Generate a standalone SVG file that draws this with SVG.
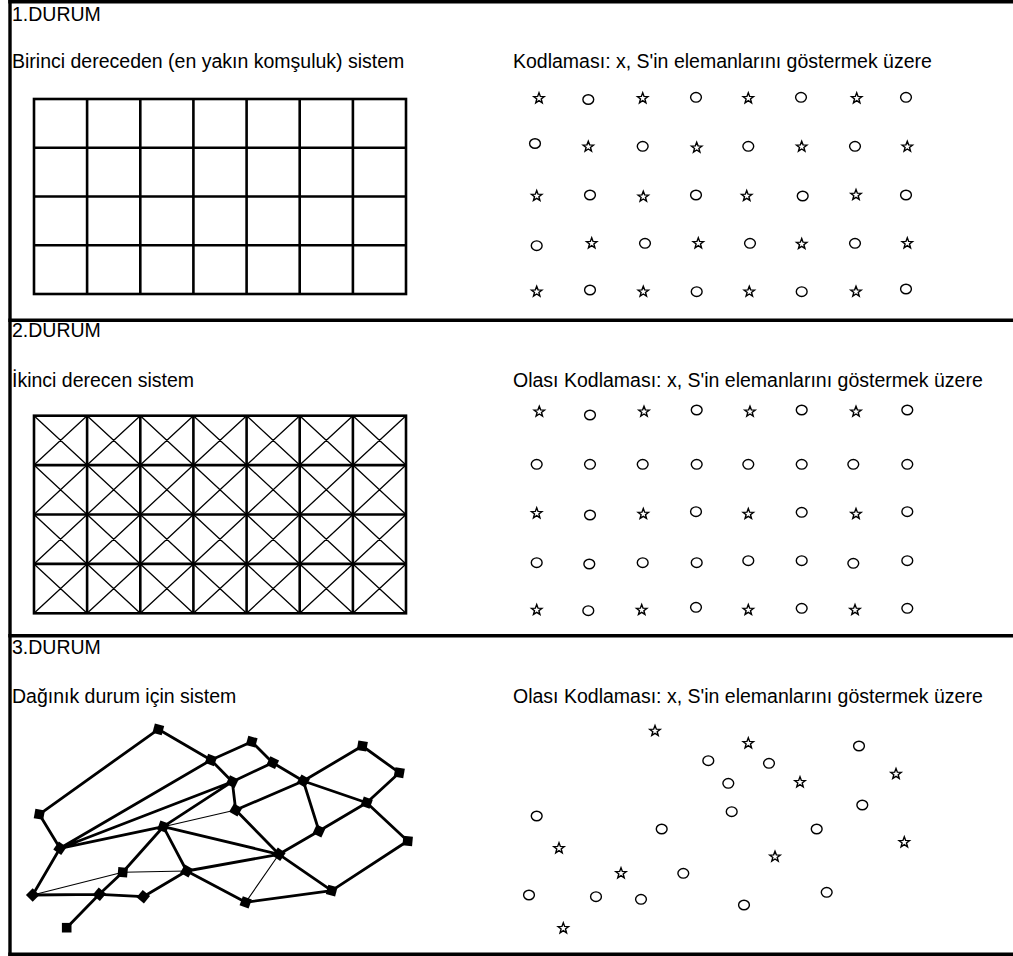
<svg xmlns="http://www.w3.org/2000/svg" xmlns:xlink="http://www.w3.org/1999/xlink" width="1013" height="956" viewBox="0 0 1013 956">
<style>
text{font-family:"Liberation Sans",Arial,sans-serif;font-size:19.5px;fill:#000}
.frame{stroke:#000;stroke-width:3.4;fill:none}
.grid{stroke:#000;stroke-width:2.6;fill:none}
.diag{stroke:#000;stroke-width:1.3;fill:none}
.sym{stroke:#000;stroke-width:1.4;fill:none}
.e{stroke:#000;stroke-width:2.8;fill:none;stroke-linecap:round}
.t{stroke:#000;stroke-width:1.1;fill:none}
.n{fill:#000}
</style>
<defs>
<path id="st" class="sym" d="M0,-5.5 L1.35,-1.86 L5.23,-1.7 L2.19,0.71 L3.23,4.45 L0,2.3 L-3.23,4.45 L-2.19,0.71 L-5.23,-1.7 L-1.35,-1.86 Z"/>
<ellipse id="ci" class="sym" cx="0" cy="0" rx="5.4" ry="4.8"/>
<rect id="sq" x="-4.8" y="-4.8" width="9.6" height="9.6"/>
</defs>
<rect width="1013" height="956" fill="#fff"/>

<g id="frame">
<line class="frame" x1="10" y1="0" x2="10" y2="956"/>
<line class="frame" x1="8.3" y1="1.7" x2="1013" y2="1.7"/>
<line class="frame" x1="8.3" y1="320.3" x2="1013" y2="320.3"/>
<line class="frame" x1="8.3" y1="635.8" x2="1013" y2="635.8"/>
<line class="frame" x1="8.3" y1="954.3" x2="1013" y2="954.3"/>
</g>

<g id="texts">
<text x="12" y="21">1.DURUM</text>
<text x="12" y="68">Birinci dereceden (en yakın komşuluk) sistem</text>
<text x="513" y="68">Kodlaması: x, S'in elemanlarını göstermek üzere</text>
<text x="12" y="337">2.DURUM</text>
<text x="12" y="387">İkinci derecen sistem</text>
<text x="513" y="387">Olası Kodlaması: x, S'in elemanlarını göstermek üzere</text>
<text x="12" y="654">3.DURUM</text>
<text x="12" y="703">Dağınık durum için sistem</text>
<text x="513" y="703">Olası Kodlaması: x, S'in elemanlarını göstermek üzere</text>
</g>

<g id="grid1" class="grid">
<rect x="34" y="99" width="372" height="195"/>
<path d="M87.1,99V294M140.3,99V294M193.4,99V294M246.6,99V294M299.7,99V294M352.9,99V294M34,147.75H406M34,196.5H406M34,245.25H406"/>
</g>

<g id="grid2">
<path class="diag" d="M34,415.7L87.1,465.1M87.1,415.7L34,465.1M87.1,415.7L140.3,465.1M140.3,415.7L87.1,465.1M140.3,415.7L193.4,465.1M193.4,415.7L140.3,465.1M193.4,415.7L246.6,465.1M246.6,415.7L193.4,465.1M246.6,415.7L299.7,465.1M299.7,415.7L246.6,465.1M299.7,415.7L352.9,465.1M352.9,415.7L299.7,465.1M352.9,415.7L406,465.1M406,415.7L352.9,465.1
M34,465.1L87.1,514.5M87.1,465.1L34,514.5M87.1,465.1L140.3,514.5M140.3,465.1L87.1,514.5M140.3,465.1L193.4,514.5M193.4,465.1L140.3,514.5M193.4,465.1L246.6,514.5M246.6,465.1L193.4,514.5M246.6,465.1L299.7,514.5M299.7,465.1L246.6,514.5M299.7,465.1L352.9,514.5M352.9,465.1L299.7,514.5M352.9,465.1L406,514.5M406,465.1L352.9,514.5
M34,514.5L87.1,563.9M87.1,514.5L34,563.9M87.1,514.5L140.3,563.9M140.3,514.5L87.1,563.9M140.3,514.5L193.4,563.9M193.4,514.5L140.3,563.9M193.4,514.5L246.6,563.9M246.6,514.5L193.4,563.9M246.6,514.5L299.7,563.9M299.7,514.5L246.6,563.9M299.7,514.5L352.9,563.9M352.9,514.5L299.7,563.9M352.9,514.5L406,563.9M406,514.5L352.9,563.9
M34,563.9L87.1,613.3M87.1,563.9L34,613.3M87.1,563.9L140.3,613.3M140.3,563.9L87.1,613.3M140.3,563.9L193.4,613.3M193.4,563.9L140.3,613.3M193.4,563.9L246.6,613.3M246.6,563.9L193.4,613.3M246.6,563.9L299.7,613.3M299.7,563.9L246.6,613.3M299.7,563.9L352.9,613.3M352.9,563.9L299.7,613.3M352.9,563.9L406,613.3M406,563.9L352.9,613.3"/>
<g class="grid">
<rect x="34" y="415.7" width="372" height="197.6"/>
<path d="M87.1,415.7V613.3M140.3,415.7V613.3M193.4,415.7V613.3M246.6,415.7V613.3M299.7,415.7V613.3M352.9,415.7V613.3M34,465.1H406M34,514.5H406M34,563.9H406"/>
</g>
</g>

<g id="coding1">
<use href="#st" x="539" y="98.3"/><use href="#ci" x="588.3" y="99.5"/><use href="#st" x="642.7" y="98.3"/><use href="#ci" x="696" y="97.3"/><use href="#st" x="748.3" y="98.3"/><use href="#ci" x="801" y="97.3"/><use href="#st" x="856.7" y="98.3"/><use href="#ci" x="906" y="97.3"/>
<use href="#ci" x="535" y="143.5"/><use href="#st" x="588.3" y="146.7"/><use href="#ci" x="642.7" y="146.3"/><use href="#st" x="696.7" y="147.7"/><use href="#ci" x="748.3" y="146.3"/><use href="#st" x="801.7" y="146.7"/><use href="#ci" x="855" y="146.3"/><use href="#st" x="907.3" y="146.7"/>
<use href="#st" x="536.7" y="196"/><use href="#ci" x="590" y="195"/><use href="#st" x="643.3" y="196.7"/><use href="#ci" x="696" y="195"/><use href="#st" x="746.7" y="196"/><use href="#ci" x="802.7" y="196"/><use href="#st" x="856" y="195"/><use href="#ci" x="906" y="195"/>
<use href="#ci" x="536.7" y="245.7"/><use href="#st" x="591.7" y="243.3"/><use href="#ci" x="645" y="243.3"/><use href="#st" x="698.3" y="243.3"/><use href="#ci" x="750" y="243.3"/><use href="#st" x="801.7" y="244"/><use href="#ci" x="855" y="243.3"/><use href="#st" x="907.3" y="243.3"/>
<use href="#st" x="536.7" y="291.7"/><use href="#ci" x="590" y="290"/><use href="#st" x="643.3" y="291.7"/><use href="#ci" x="696.7" y="291.7"/><use href="#st" x="749.3" y="291.7"/><use href="#ci" x="801.7" y="291.7"/><use href="#st" x="856" y="291.7"/><use href="#ci" x="906" y="289"/>
</g>

<g id="coding2">
<use href="#st" x="539.3" y="411.7"/><use href="#ci" x="590" y="415"/><use href="#st" x="644" y="411.7"/><use href="#ci" x="696.7" y="410"/><use href="#st" x="750" y="411.7"/><use href="#ci" x="801.7" y="410"/><use href="#st" x="856" y="411.7"/><use href="#ci" x="907.3" y="410"/>
<use href="#ci" x="536.7" y="464.3"/><use href="#ci" x="590" y="464.3"/><use href="#ci" x="642.7" y="464.3"/><use href="#ci" x="696.7" y="464.3"/><use href="#ci" x="748.3" y="464.3"/><use href="#ci" x="801.7" y="464.3"/><use href="#ci" x="853.3" y="464.3"/><use href="#ci" x="907.3" y="464.3"/>
<use href="#st" x="536.7" y="513.3"/><use href="#ci" x="590" y="515"/><use href="#st" x="643.3" y="514"/><use href="#ci" x="696" y="511.7"/><use href="#st" x="748.3" y="514"/><use href="#ci" x="801.7" y="512.3"/><use href="#st" x="856" y="514"/><use href="#ci" x="907.3" y="511.7"/>
<use href="#ci" x="536.7" y="562.7"/><use href="#ci" x="589.3" y="564"/><use href="#ci" x="642.7" y="562.7"/><use href="#ci" x="696.7" y="562.7"/><use href="#ci" x="748.3" y="560.7"/><use href="#ci" x="801.7" y="560.7"/><use href="#ci" x="853.3" y="563.3"/><use href="#ci" x="907.3" y="560.7"/>
<use href="#st" x="536.7" y="610"/><use href="#ci" x="588.3" y="610.7"/><use href="#st" x="641.7" y="610"/><use href="#ci" x="696" y="607.3"/><use href="#st" x="748.3" y="610"/><use href="#ci" x="801.7" y="608.3"/><use href="#st" x="855" y="610"/><use href="#ci" x="907.3" y="608.3"/>
</g>

<g id="coding3">
<use href="#st" x="655" y="731"/><use href="#st" x="748.3" y="743.3"/><use href="#st" x="800" y="782.3"/><use href="#st" x="896" y="774"/><use href="#st" x="904.3" y="842.3"/><use href="#st" x="775" y="856.7"/><use href="#st" x="559" y="848.3"/><use href="#st" x="621" y="873.3"/><use href="#st" x="563.3" y="928.3"/>
<use href="#ci" x="708.3" y="760.7"/><use href="#ci" x="769" y="763.3"/><use href="#ci" x="728.3" y="783.3"/><use href="#ci" x="859" y="746"/><use href="#ci" x="862.3" y="805"/><use href="#ci" x="731.7" y="811.7"/><use href="#ci" x="816.7" y="829"/><use href="#ci" x="661.7" y="829"/><use href="#ci" x="536.7" y="816"/><use href="#ci" x="683.3" y="873.3"/><use href="#ci" x="529" y="895"/><use href="#ci" x="596" y="896.7"/><use href="#ci" x="641" y="899.3"/><use href="#ci" x="744" y="905"/><use href="#ci" x="826.7" y="892.3"/>
</g>

<g id="connectors">
<path class="e" d="M158.3,729.3L39.3,814.3M158.3,729.3L211,760M39.3,814.3L60,848.3M60,848.3L211,760M60,848.3L232.3,781.7M60,848.3L163.3,826.7M163.3,826.7L232.3,781.7M211,760L232.3,781.7M211,760L251.7,741.7M232.3,781.7L235.7,810M163.3,826.7L122.7,872.3M163.3,826.7L186.7,871M163.3,826.7L279,854.3M60,848.3L32.7,895M122.7,872.3L99.3,894.3M32.7,895L99.3,894.3M99.3,894.3L143.3,896.7M99.3,894.3L66.7,927.7M143.3,896.7L186.7,871M186.7,871L245.7,902.3M186.7,871L279,854.3M235.7,810L279,854.3M232.3,781.7L272.7,762.7M251.7,741.7L272.7,762.7M272.7,762.7L303.3,781M235.7,810L303.3,781M303.3,781L362.3,746M303.3,781L366.7,802.7M303.3,781L319,831M362.3,746L399.3,772.7M399.3,772.7L366.7,802.7M366.7,802.7L319,831M319,831L279,854.3M366.7,802.7L407.7,841M407.7,841L331.7,890.7M279,854.3L331.7,890.7M245.7,902.3L331.7,890.7"/>
<path class="t" d="M235.7,810L163.3,826.7M32.7,895L122.7,872.3M122.7,872.3L186.7,871M245.7,902.3L279,854.3"/>
</g>

<g id="nodes" class="n">
<g id="nA"><use href="#sq" transform="translate(158.3,729.3) rotate(15)"/></g>
<g id="nB"><use href="#sq" transform="translate(39.3,814.3) rotate(10)"/></g>
<g id="nC"><use href="#sq" transform="translate(60,848.3) rotate(35)"/></g>
<g id="nD"><use href="#sq" transform="translate(211,760) rotate(20)"/></g>
<g id="nE"><use href="#sq" transform="translate(232.3,781.7) rotate(25)"/></g>
<g id="nF"><use href="#sq" transform="translate(251.7,741.7) rotate(15)"/></g>
<g id="nG"><use href="#sq" transform="translate(235.7,810) rotate(30)"/></g>
<g id="nH"><use href="#sq" transform="translate(163.3,826.7) rotate(20)"/></g>
<g id="nI"><use href="#sq" transform="translate(122.7,872.3) rotate(5)"/></g>
<g id="nJ"><use href="#sq" transform="translate(186.7,871) rotate(30)"/></g>
<g id="nK"><use href="#sq" transform="translate(32.7,895) rotate(45)"/></g>
<g id="nL"><use href="#sq" transform="translate(99.3,894.3) rotate(40)"/></g>
<g id="nM"><use href="#sq" transform="translate(143.3,896.7) rotate(40)"/></g>
<g id="nN"><use href="#sq" transform="translate(66.7,927.7) rotate(0)"/></g>
<g id="nO"><use href="#sq" transform="translate(245.7,902.3) rotate(20)"/></g>
<g id="nP"><use href="#sq" transform="translate(272.7,762.7) rotate(25)"/></g>
<g id="nQ"><use href="#sq" transform="translate(303.3,781) rotate(30)"/></g>
<g id="nR"><use href="#sq" transform="translate(362.3,746) rotate(10)"/></g>
<g id="nS"><use href="#sq" transform="translate(399.3,772.7) rotate(10)"/></g>
<g id="nT"><use href="#sq" transform="translate(366.7,802.7) rotate(20)"/></g>
<g id="nU"><use href="#sq" transform="translate(319,831) rotate(25)"/></g>
<g id="nV"><use href="#sq" transform="translate(279,854.3) rotate(35)"/></g>
<g id="nW"><use href="#sq" transform="translate(407.7,841) rotate(5)"/></g>
<g id="nX"><use href="#sq" transform="translate(331.7,890.7) rotate(15)"/></g>
</g>
</svg>
